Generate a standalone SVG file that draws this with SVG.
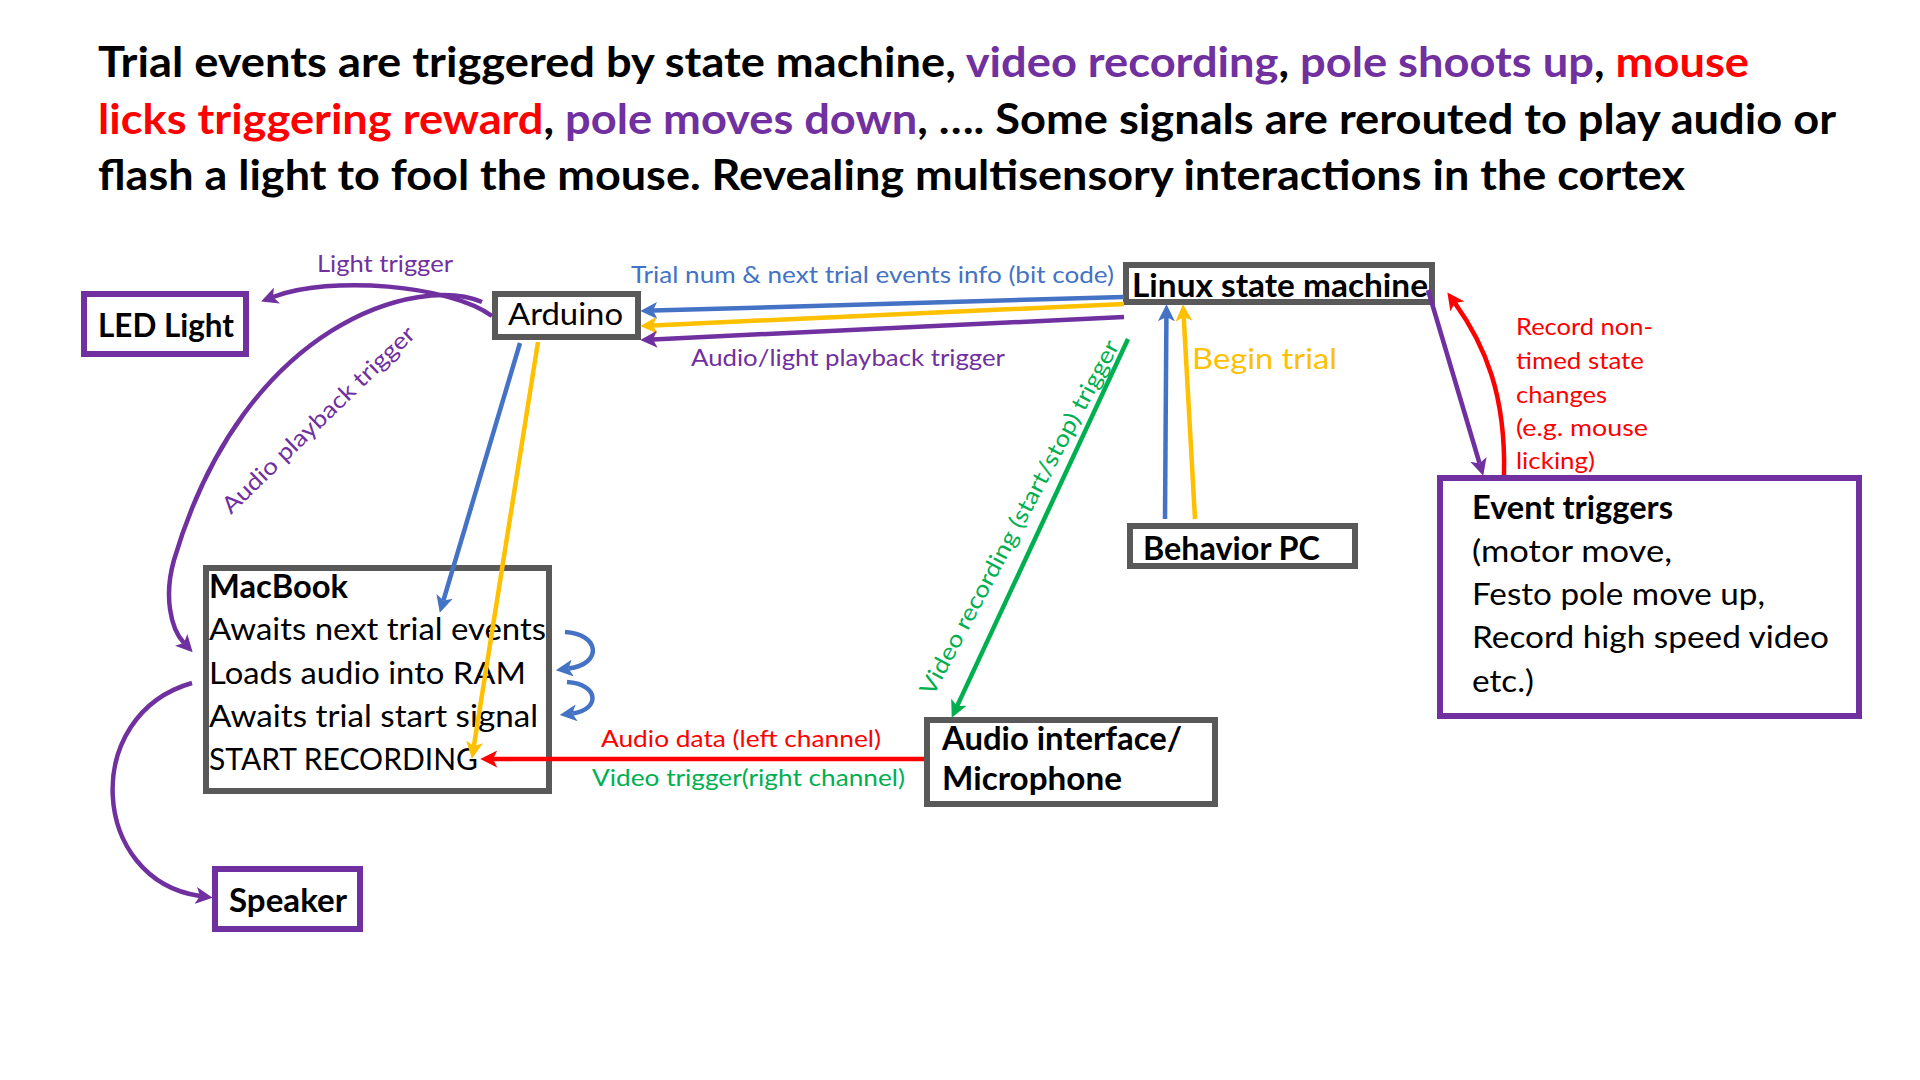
<svg xmlns="http://www.w3.org/2000/svg" width="1920" height="1080" viewBox="0 0 1920 1080">
<style>
text { font-family: Lato, "Open Sans", "Liberation Sans", sans-serif; }
.t { font-size: 42px; font-weight: 700; fill: #000; }
.pu { fill: #7030A0; }
.rd { fill: #FF0000; }
.bl { fill: #4472C4; }
.yl { fill: #FFC000; }
.gr { fill: #00B050; }
.box { fill: #fff; stroke: #595959; stroke-width: 6; }
.pbox { fill: #fff; stroke: #7030A0; stroke-width: 6; }
.nb { font-size: 32px; font-weight: 700; fill: #000; }
.nr { font-size: 30px; fill: #000; }
.lb { font-size: 23px; }
.c { fill: none; stroke-width: 4.5; }
.cb { stroke: #4472C4; }
.cy { stroke: #FFC000; }
.cp { stroke: #7030A0; }
.cr { stroke: #FF0000; }
.cg { stroke: #00B050; }
</style>
<defs>
<marker id="ab" viewBox="0 0 16 16" markerWidth="17" markerHeight="17" refX="4" refY="8" orient="auto" markerUnits="userSpaceOnUse"><path d="M0,0 L16,8 L0,16 L4,8 z" fill="#4472C4"/></marker>
<marker id="ay" viewBox="0 0 16 16" markerWidth="17" markerHeight="17" refX="4" refY="8" orient="auto" markerUnits="userSpaceOnUse"><path d="M0,0 L16,8 L0,16 L4,8 z" fill="#FFC000"/></marker>
<marker id="ap" viewBox="0 0 16 16" markerWidth="17" markerHeight="17" refX="4" refY="8" orient="auto" markerUnits="userSpaceOnUse"><path d="M0,0 L16,8 L0,16 L4,8 z" fill="#7030A0"/></marker>
<marker id="ar" viewBox="0 0 16 16" markerWidth="17" markerHeight="17" refX="4" refY="8" orient="auto" markerUnits="userSpaceOnUse"><path d="M0,0 L16,8 L0,16 L4,8 z" fill="#FF0000"/></marker>
<marker id="ag" viewBox="0 0 16 16" markerWidth="17" markerHeight="17" refX="4" refY="8" orient="auto" markerUnits="userSpaceOnUse"><path d="M0,0 L16,8 L0,16 L4,8 z" fill="#00B050"/></marker>
</defs>
<rect x="0" y="0" width="1920" height="1080" fill="#fff"/>

<g id="title">
<text class="t" x="98" y="77" textLength="1651" lengthAdjust="spacingAndGlyphs">Trial events are triggered by state machine, <tspan class="pu">video recording</tspan>, <tspan class="pu">pole shoots up</tspan>, <tspan class="rd">mouse</tspan></text>
<text class="t" x="98" y="134" textLength="1738" lengthAdjust="spacingAndGlyphs"><tspan class="rd">licks triggering reward</tspan>, <tspan class="pu">pole moves down</tspan>, …. Some signals are rerouted to play audio or</text>
<text class="t" x="98" y="190" textLength="1587" lengthAdjust="spacingAndGlyphs">flash a light to fool the mouse. Revealing multisensory interactions in the cortex</text>
</g>

<g id="led-light">
<rect class="pbox" x="84" y="294" width="162" height="60"/>
<text class="nb" x="98" y="337" textLength="136" lengthAdjust="spacingAndGlyphs">LED Light</text>
</g>
<g id="arduino">
<rect class="box" x="495" y="294" width="143" height="43"/>
<text class="nr" x="508" y="325" textLength="115" lengthAdjust="spacingAndGlyphs">Arduino</text>
</g>
<g id="linux-state-machine">
<rect class="box" x="1126" y="265" width="306" height="37"/>
<text class="nb" x="1132" y="297" textLength="296" lengthAdjust="spacingAndGlyphs">Linux state machine</text>
</g>
<g id="behavior-pc">
<rect class="box" x="1130" y="526" width="225" height="40"/>
<text class="nb" x="1143" y="560" textLength="177" lengthAdjust="spacingAndGlyphs">Behavior PC</text>
</g>
<g id="macbook">
<rect class="box" x="206" y="568" width="343" height="223"/>
<text class="nb" x="209" y="598" textLength="139" lengthAdjust="spacingAndGlyphs">MacBook</text>
<text class="nr" x="209" y="640" textLength="337" lengthAdjust="spacingAndGlyphs">Awaits next trial events</text>
<text class="nr" x="209" y="684" textLength="317" lengthAdjust="spacingAndGlyphs">Loads audio into RAM</text>
<text class="nr" x="209" y="727" textLength="329" lengthAdjust="spacingAndGlyphs">Awaits trial start signal</text>
<text class="nr" x="209" y="770" textLength="269" lengthAdjust="spacingAndGlyphs">START RECORDING</text>
</g>
<g id="speaker">
<rect class="pbox" x="215" y="869" width="145" height="60"/>
<text class="nb" x="229" y="912" textLength="118" lengthAdjust="spacingAndGlyphs">Speaker</text>
</g>
<g id="audio-interface">
<rect class="box" x="927" y="720" width="288" height="84"/>
<text class="nb" x="942" y="750" textLength="240" lengthAdjust="spacingAndGlyphs">Audio interface/</text>
<text class="nb" x="942" y="790" textLength="180" lengthAdjust="spacingAndGlyphs">Microphone</text>
</g>
<g id="event-triggers">
<rect class="pbox" x="1440" y="478" width="419" height="238"/>
<text class="nb" x="1472" y="519" textLength="201" lengthAdjust="spacingAndGlyphs">Event triggers</text>
<text class="nr" x="1472" y="562" font-size="32" textLength="200" lengthAdjust="spacingAndGlyphs">(motor move,</text>
<text class="nr" x="1472" y="605" font-size="32" textLength="293" lengthAdjust="spacingAndGlyphs">Festo pole move up,</text>
<text class="nr" x="1472" y="648" font-size="32" textLength="357" lengthAdjust="spacingAndGlyphs">Record high speed video</text>
<text class="nr" x="1472" y="692" font-size="32" textLength="62" lengthAdjust="spacingAndGlyphs">etc.)</text>
</g>

<g id="connectors">
<line class="c cb" x1="1124" y1="297" x2="653" y2="310.6" marker-end="url(#ab)"/>
<line class="c cy" x1="1124" y1="304" x2="653" y2="325.4" marker-end="url(#ay)"/>
<line class="c cp" x1="1124" y1="317" x2="653" y2="339.4" marker-end="url(#ap)"/>
<path class="c cp" d="M 492 316 C 450 285, 330 275, 273 297" marker-end="url(#ap)"/>
<path class="c cp" d="M 482 302 C 420 275, 245 320, 174 560 C 164 595, 170 628, 184 643" marker-end="url(#ap)"/>
<line class="c cb" x1="520" y1="343" x2="443.4" y2="600.5" marker-end="url(#ab)"/>
<line class="c cy" x1="538" y1="342" x2="473.9" y2="746.1" marker-end="url(#ay)"/>
<line class="c cg" x1="1128" y1="339" x2="957.1" y2="706.1" marker-end="url(#ag)"/>
<line class="c cb" x1="1165" y1="519" x2="1166.4" y2="317" marker-end="url(#ab)"/>
<line class="c cy" x1="1195" y1="519" x2="1183.7" y2="317" marker-end="url(#ay)"/>
<line class="c cp" x1="1428" y1="290" x2="1479.6" y2="463.5" marker-end="url(#ap)"/>
<path class="c cr" d="M 1504 475 C 1506 395, 1485 345, 1454.8 302.9" marker-end="url(#ar)"/>
<line class="c cr" x1="924" y1="759" x2="493" y2="759" marker-end="url(#ar)"/>
<path class="c cp" d="M 192 683 C 80 715, 90 880, 200 896" marker-end="url(#ap)"/>
<path class="c cb" d="M 565 632 C 600 634, 603 664, 568.5 668.6" stroke-width="5.5" marker-end="url(#ab)"/>
<path class="c cb" d="M 567 682 C 600 684, 600 710, 572.4 713.4" stroke-width="5.5" marker-end="url(#ab)"/>
</g>

<g id="labels">
<text class="lb bl" x="631" y="283" textLength="483" lengthAdjust="spacingAndGlyphs">Trial num &amp; next trial events info (bit code)</text>
<text class="lb pu" x="691" y="366" textLength="314" lengthAdjust="spacingAndGlyphs">Audio/light playback trigger</text>
<text class="lb pu" x="317" y="272" textLength="136" lengthAdjust="spacingAndGlyphs">Light trigger</text>
<text class="lb pu" transform="translate(231 515) rotate(-44)" x="0" y="0" textLength="258" lengthAdjust="spacingAndGlyphs">Audio playback trigger</text>
<text class="lb gr" transform="translate(933 697) rotate(-62)" x="0" y="0" textLength="398" lengthAdjust="spacingAndGlyphs">Video recording (start/stop) trigger</text>
<text class="yl" x="1192" y="369" font-size="28" textLength="145" lengthAdjust="spacingAndGlyphs">Begin trial</text>
<text class="lb rd" x="601" y="747" textLength="280" lengthAdjust="spacingAndGlyphs">Audio data (left channel)</text>
<text class="lb gr" x="592" y="786" textLength="313" lengthAdjust="spacingAndGlyphs">Video trigger(right channel)</text>
<text class="lb rd" x="1516" y="335" textLength="137" lengthAdjust="spacingAndGlyphs">Record non-</text>
<text class="lb rd" x="1516" y="369" textLength="128" lengthAdjust="spacingAndGlyphs">timed state</text>
<text class="lb rd" x="1516" y="403" textLength="91" lengthAdjust="spacingAndGlyphs">changes</text>
<text class="lb rd" x="1516" y="436" textLength="132" lengthAdjust="spacingAndGlyphs">(e.g. mouse</text>
<text class="lb rd" x="1516" y="469" textLength="79" lengthAdjust="spacingAndGlyphs">licking)</text>
</g>
</svg>
